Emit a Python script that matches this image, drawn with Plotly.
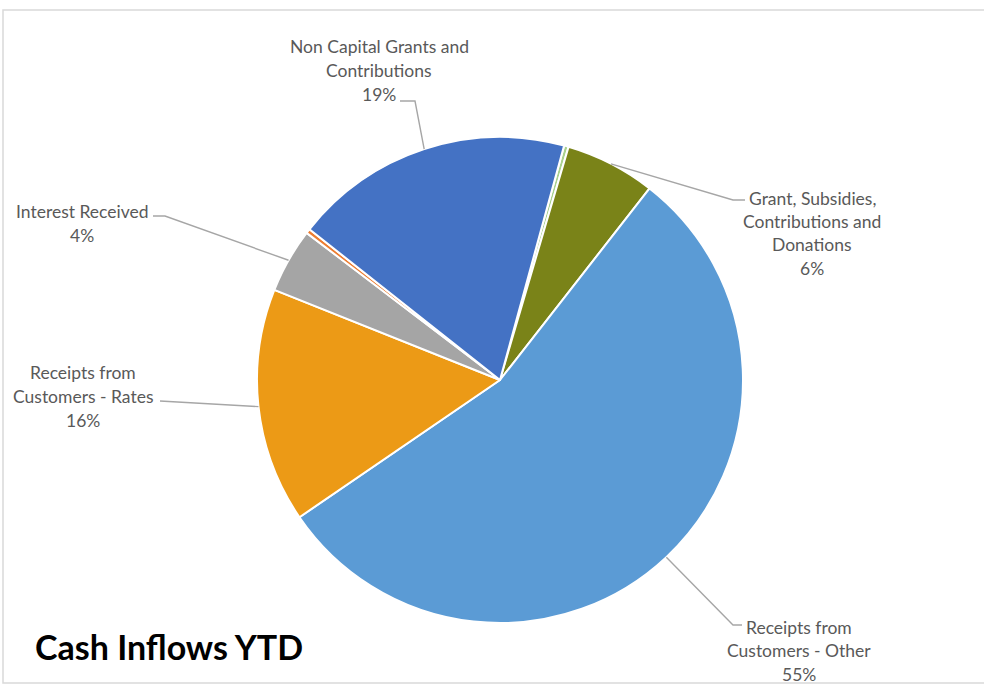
import math
import plotly.graph_objects as go

# ---- data ----
categories = [
    "Capital Grants",
    "Grant, Subsidies, Contributions and Donations",
    "Receipts from Customers - Other",
    "Receipts from Customers - Rates",
    "Interest Received",
    "Other Receipts",
    "Non Capital Grants and Contributions",
]
values = [0.3, 6.0, 54.9, 15.6, 4.3, 0.3, 18.6]
display_labels = [
    None,
    ["Grant, Subsidies,", "Contributions and", "Donations"],
    ["Receipts from", "Customers - Other"],
    ["Receipts from", "Customers - Rates"],
    ["Interest Received"],
    None,
    ["Non Capital Grants and", "Contributions"],
]
colors = ["#A9D18E", "#7A8318", "#5B9BD5", "#EC9A16", "#A5A5A5", "#ED7D31", "#4472C4"]

# ---- layout constants ----
W, H = 984, 684
CX, CY, R = 500, 380, 243
ROT = 15.3
FONT = "Lato"
TXT = "#595959"
LINE = "#A6A6A6"

def px(x):
    return x / W

def py(y):
    return 1 - y / H

fig = go.Figure(go.Pie(
    labels=categories, values=values, sort=False, direction="clockwise",
    rotation=ROT, textinfo="none", hoverinfo="label+percent",
    marker=dict(colors=colors, line=dict(color="white", width=2)),
    domain=dict(x=[px(CX - R), px(CX + R)], y=[py(CY + R), py(CY - R)]),
    showlegend=False,
))

total = sum(values)
label_layout = {
    1: dict(x=812, y=198, path=[(745, 200), (733, 200)]),
    2: dict(x=799, y=627, path=[(742, 625), (733, 625)]),
    3: dict(x=83, y=373, path=[(160, 401)]),
    4: dict(x=82, y=212, path=[(153, 216), (165, 216)]),
    6: dict(x=379, y=47, path=[(400, 101), (415, 101)]),
}
SPACING = 23.5

annotations = []
shapes = []
cum = 0.0
for i, v in enumerate(values):
    mid = ROT + (cum + v / 2) / total * 360
    cum += v
    if display_labels[i] is None:
        continue
    lay = label_layout[i]
    lines = display_labels[i] + [f"{round(v / total * 100)}%"]
    for k, t in enumerate(lines):
        annotations.append(dict(
            x=px(lay["x"]), y=py(lay["y"] + k * SPACING), xref="paper", yref="paper",
            text=t, showarrow=False, xanchor="center", yanchor="middle",
            font=dict(family=FONT, size=17.5, color=TXT),
        ))
    ex = CX + R * math.sin(math.radians(mid))
    ey = CY - R * math.cos(math.radians(mid))
    pts = lay["path"] + [(ex, ey)]
    d = "M " + " L ".join(f"{px(a)},{py(b)}" for a, b in pts)
    shapes.append(dict(type="path", path=d, xref="paper", yref="paper",
                       line=dict(color=LINE, width=1.4)))

# title
annotations.append(dict(
    x=px(33), y=py(646), xref="paper", yref="paper", text="<b>Cash Inflows YTD</b>",
    showarrow=False, xanchor="left", yanchor="middle",
    font=dict(family=FONT, size=34, color="black"),
))

# chart frame
shapes.append(dict(type="rect", xref="paper", yref="paper",
                   x0=px(3), x1=px(995), y0=py(683), y1=py(10),
                   line=dict(color="#D9D9D9", width=1.5), layer="below"))

fig.update_layout(
    width=W, height=H, margin=dict(l=0, r=0, t=0, b=0),
    paper_bgcolor="white", plot_bgcolor="white",
    annotations=annotations, shapes=shapes,
)
fig.write_html("out.html", config={"displayModeBar": False},
               post_script="document.body.style.margin='0';document.body.style.padding='0';")
